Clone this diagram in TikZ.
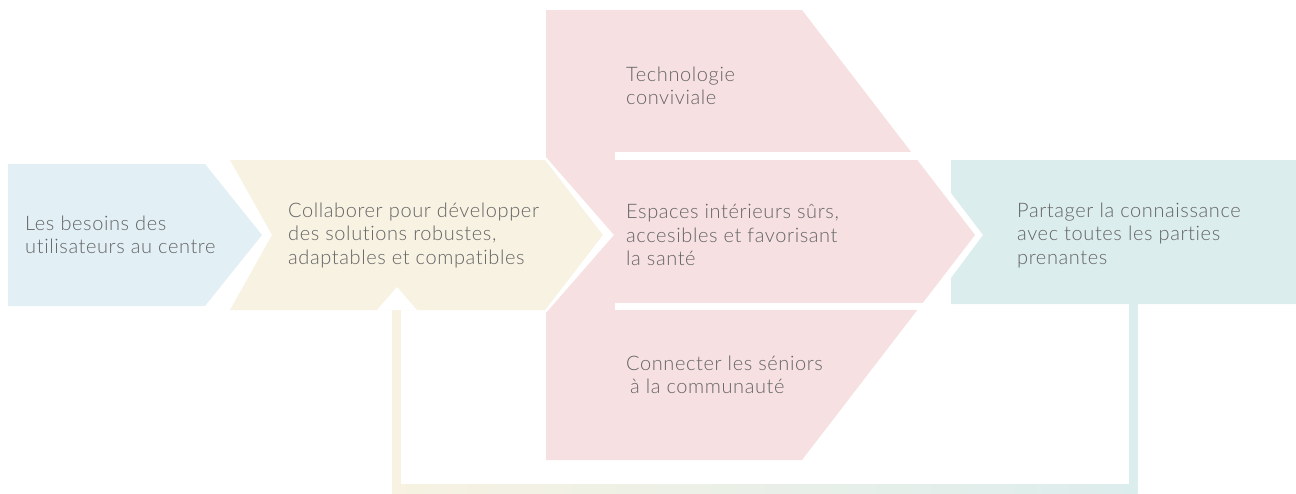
\documentclass[tikz,border=0pt]{standalone}
\usepackage{fontspec}
\setmainfont{Lato Light}[LetterSpace=3, Ligatures=NoCommon]
\definecolor{cblue}{RGB}{226,240,246}
\definecolor{cbeige}{RGB}{247,242,226}
\definecolor{cpink}{RGB}{247,224,226}
\definecolor{cteal}{RGB}{220,237,237}
\definecolor{ctext}{RGB}{100,100,100}
\tikzset{
  lbl/.style={anchor=west, align=left, inner sep=0pt, text=ctext, font=\fontsize{20}{23.5}\selectfont},
  fbline/.style={line width=9pt}
}
\begin{document}
\begin{tikzpicture}[x=1pt,y=-1pt]
\useasboundingbox (0,0) rectangle (1296,493);
% blue arrow
\fill[cblue] (8,164) -- (205,164) -- (262,235) -- (205,306) -- (8,306) -- cycle;
% beige arrow
\fill[cbeige] (230,160) -- (545,160) -- (603,235) -- (545,310) -- (230,310) -- (272,235) -- cycle;
% pink big arrow
\fill[cpink] (546,10) -- (802,10) -- (975,235) -- (802,460) -- (546,460) -- (546,313) -- (614,235) -- (546,157) -- cycle;
\fill[white] (615,152) rectangle (945,160);
\fill[white] (615,303) rectangle (945,310);
% teal box
\fill[cteal] (951,160) -- (1296,160) -- (1296,304) -- (951,304) -- (951,278) -- (983,235) -- (951,193) -- cycle;
% labels
\node[lbl] (n1) at (25,235) {Les besoins des\\utilisateurs au centre};
\node[lbl] (n2) at (288,235) {Collaborer pour développer\\des solutions robustes,\\adaptables et compatibles};
\node[lbl] (n3) at (626,86) {Technologie\\conviviale};
\node[lbl] (n4) at (626,235) {Espaces intérieurs sûrs,\\accesibles et favorisant\\la santé};
\node[lbl] (n5) at (626,375) {Connecter les séniors\\\hspace*{4pt}à la communauté};
\node[lbl] (n6) at (1017,235) {Partager la connaissance\\avec toutes les parties\\prenantes};
% feedback connector
\coordinate (fbstart) at (1133,304);
\coordinate (fbcorner) at (1133,488.5);
\coordinate (fbcorner2) at (396.5,488.5);
\coordinate (fbend) at (396.5,310);
\draw[fbline, cteal] (fbstart) -- ([yshift=4.5pt]fbcorner);
\draw[fbline, cbeige] ([yshift=4.5pt]fbcorner2) -- (fbend);
\shade[left color=cbeige, right color=cteal] ([xshift=-4.5pt,yshift=4.5pt]fbcorner2) rectangle ([xshift=4.5pt,yshift=-4.5pt]fbcorner);
\fill[white] (377,310) -- (397,287) -- (417,310) -- cycle;
\end{tikzpicture}
\end{document}
